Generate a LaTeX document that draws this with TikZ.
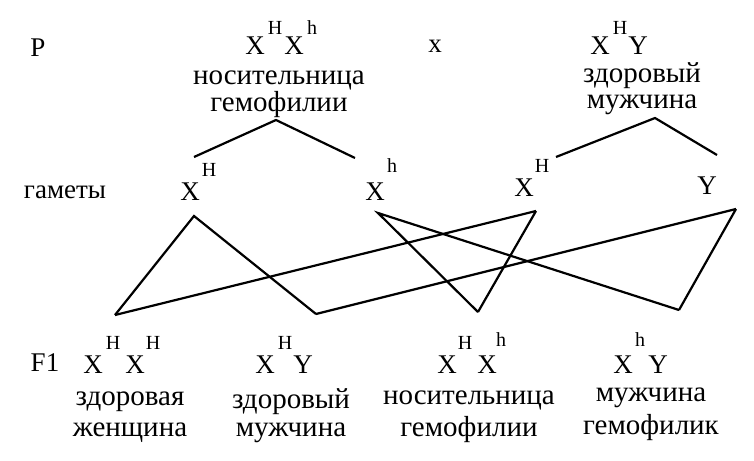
\documentclass[tikz,border=0pt]{standalone}
\usepackage{fontspec}
\setmainfont{Liberation Serif}
\begin{document}
\begin{tikzpicture}[x=1pt,y=-1pt,
  lbl/.style={inner sep=0pt,font=\fontsize{27}{27}\selectfont},
  big/.style={inner sep=0pt,font=\fontsize{29}{29}\selectfont},
  sup/.style={inner sep=0pt,font=\fontsize{20}{20}\selectfont},
  ln/.style={line width=2.2pt}]
\useasboundingbox (0,0) rectangle (754,460);
% parents
\node[lbl] (P) at (38,48) {P};
\node[lbl] (cross) at (435,46) {x};
\node[lbl] (f1) at (255,46) {X};\node[sup] (f1s) at (275,28) {H};
\node[lbl] (f2) at (294,46) {X};\node[sup] (f2s) at (312,28) {h};
\node[big] (ft1) at (279,80) {носительница};
\node[big] (ft2) at (279,105) {гемофилии};
\node[lbl] (m1) at (600,46) {X};\node[sup] (m1s) at (620,28) {H};
\node[lbl] (m2) at (638,46) {Y};
\node[big] (mt1) at (642,76) {здоровый};
\node[big] (mt2) at (642,105) {мужчина};
% gametes
\node[lbl] (gam) at (65,192) {гаметы};
\node[lbl] (g1) at (190,192) {X};\node[sup] (g1s) at (209,170) {H};
\node[lbl] (g2) at (375,192) {X};\node[sup] (g2s) at (392,166) {h};
\node[lbl] (g3) at (524,188) {X};\node[sup] (g3s) at (542,166) {H};
\node[lbl] (g4) at (707,186) {Y};
% upper lines
\coordinate (fa) at (276,120); \coordinate (fl) at (194,157); \coordinate (fr) at (355,158);
\coordinate (ma) at (655,118); \coordinate (ml) at (556,157); \coordinate (mr) at (717,155);
\draw[ln] (fl)--(fa)--(fr);
\draw[ln] (ml)--(ma)--(mr);
% crossing lines
\coordinate (A) at (194,216); \coordinate (B) at (115,315); \coordinate (C) at (316,314);
\coordinate (D) at (378,213); \coordinate (E) at (478,312); \coordinate (F) at (536,211);
\coordinate (G) at (736,209); \coordinate (H) at (679,310);
\draw[ln] (B)--(A)--(C);
\draw[ln] (B)--(F);
\draw[ln] (C)--(G);
\draw[ln] (E)--(D)--(H);
\draw[ln] (E)--(F);
\draw[ln] (G)--(H);
% F1
\node[lbl] (F1) at (45,363) {F1};
\node[lbl] (o1a) at (93,365) {X};\node[sup] (o1as) at (113,343) {H};
\node[lbl] (o1b) at (135,365) {X};\node[sup] (o1bs) at (153,343) {H};
\node[big] (o1t1) at (130,402) {здоровая};
\node[big] (o1t2) at (130,433) {женщина};
\node[lbl] (o2a) at (265,365) {X};\node[sup] (o2as) at (285,343) {H};
\node[lbl] (o2b) at (303,365) {Y};
\node[big] (o2t1) at (291,402) {здоровый};
\node[big] (o2t2) at (291,433) {мужчина};
\node[lbl] (o3a) at (447,365) {X};\node[sup] (o3as) at (465,343) {H};
\node[lbl] (o3b) at (487,365) {X};\node[sup] (o3bs) at (501,340) {h};
\node[big] (o3t1) at (469,400) {носительница};
\node[big] (o3t2) at (469,430) {гемофилии};
\node[lbl] (o4a) at (623,365) {X};\node[sup] (o4as) at (640,340) {h};
\node[lbl] (o4b) at (658,365) {Y};
\node[big] (o4t1) at (651,398) {мужчина};
\node[big] (o4t2) at (651,428) {гемофилик};
\end{tikzpicture}
\end{document}
